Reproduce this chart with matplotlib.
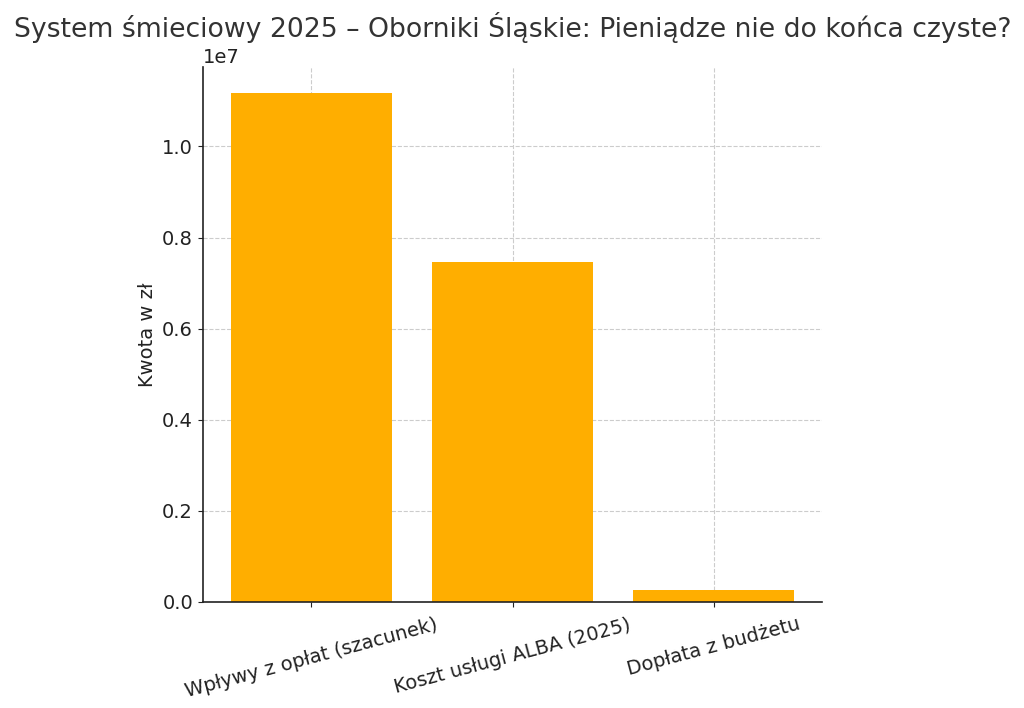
import matplotlib
matplotlib.use("Agg")
import matplotlib.pyplot as plt

CATEGORIES = ["Wpływy z opłat (szacunek)", "Koszt usługi ALBA (2025)", "Dopłata z budżetu"]
AMOUNTS = [11180000, 7470000, 250000]

BAR_COLOR = "#FFAE00"

fig, ax = plt.subplots(figsize=(10.24, 7.08), dpi=100)
fig.subplots_adjust(left=0.198, right=0.803, top=0.905, bottom=0.150)

ax.bar(CATEGORIES, AMOUNTS, color=BAR_COLOR, width=0.8, zorder=2)

ax.set_title("System śmieciowy 2025 – Oborniki Śląskie: Pieniądze nie do końca czyste?",
             fontsize=19.2, color="#333333", pad=8)
ax.set_ylabel("Kwota w zł", fontsize=14, color="#222222")
ax.tick_params(axis="both", labelsize=14, colors="#222222")
ax.tick_params(axis="x", labelrotation=15, pad=6)
for label in ax.get_xticklabels():
    label.set_ha("center")
ax.yaxis.get_offset_text().set_fontsize(14)

ax.grid(True, linestyle="--", color="#cccccc", linewidth=0.8, zorder=0)
ax.spines["top"].set_visible(False)
ax.spines["right"].set_visible(False)
for side in ("left", "bottom"):
    ax.spines[side].set_color("#222222")
    ax.spines[side].set_linewidth(1.2)

fig.savefig("out.png", dpi=100)
plt.close(fig)
